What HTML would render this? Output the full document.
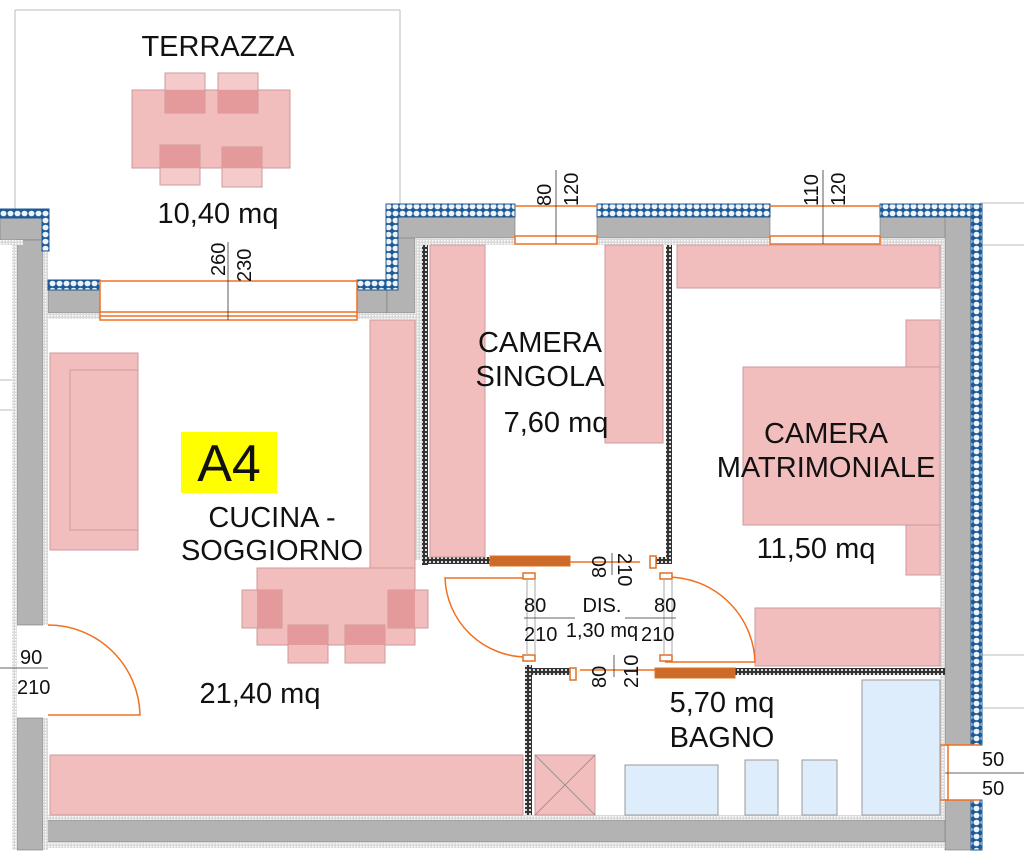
<!DOCTYPE html>
<html><head><meta charset="utf-8"><style>
html,body{margin:0;padding:0;background:#fff;}
svg{display:block;font-family:"Liberation Sans",sans-serif;}
</style></head><body>
<svg width="1024" height="856" viewBox="0 0 1024 856" xmlns="http://www.w3.org/2000/svg">
<defs>
<pattern id="ins" width="7" height="7" patternUnits="userSpaceOnUse">
<rect width="7" height="7" fill="#1d5a96"/><ellipse cx="3.5" cy="3.5" rx="3" ry="2.8" fill="#eef3f9"/>
</pattern>
<pattern id="lt" width="3" height="3" patternUnits="userSpaceOnUse">
<rect width="3" height="3" fill="#d9d9d9"/><rect width="1.5" height="1.5" fill="#fff"/>
</pattern>
<pattern id="dk" width="4" height="4" patternUnits="userSpaceOnUse">
<rect width="4" height="4" fill="#333"/><rect x="1" y="1" width="2" height="2" fill="#ddd"/>
</pattern>
</defs>
<g fill="none" stroke="#bbb" stroke-width="1">
<line x1="15" y1="10" x2="15" y2="210"/><line x1="15" y1="10" x2="400" y2="10"/><line x1="400" y1="10" x2="400" y2="205"/>
<line x1="980" y1="203" x2="1024" y2="203"/><line x1="980" y1="245" x2="1024" y2="245"/>
<line x1="980" y1="655" x2="1024" y2="655"/><line x1="980" y1="708" x2="1024" y2="708"/>
<line x1="0" y1="380" x2="15" y2="380"/><line x1="0" y1="410" x2="15" y2="410"/>
</g>
<g fill="#f2bdbd" stroke="#c99" stroke-width="1">
<rect x="132" y="90" width="158" height="78"/>
<rect x="165" y="73" width="40" height="40" fill-opacity="0.8"/>
<rect x="218" y="73" width="40" height="40" fill-opacity="0.8"/>
<rect x="160" y="145" width="40" height="40" fill-opacity="0.8"/>
<rect x="222" y="147" width="40" height="40" fill-opacity="0.8"/>
</g>
<g fill="#e49a9a"><rect x="165" y="90" width="40" height="23"/><rect x="218" y="90" width="40" height="23"/><rect x="160" y="145" width="40" height="23"/><rect x="222" y="147" width="40" height="21"/></g>
<g fill="#b3b3b3" stroke="#777" stroke-width="0.6">
<rect x="0" y="217" width="43" height="23"/>
<rect x="17" y="240" width="26" height="385"/>
<rect x="17" y="718" width="26" height="132"/>
<rect x="48" y="290" width="52" height="23"/>
<rect x="357" y="290" width="30" height="23"/>
<rect x="387" y="217" width="28" height="96"/>
<rect x="398" y="217" width="117" height="21"/>
<rect x="597" y="217" width="173" height="21"/>
<rect x="880" y="217" width="92" height="21"/>
<rect x="945" y="217" width="27" height="528"/>
<rect x="945" y="800" width="27" height="50"/>
<rect x="43" y="820" width="902" height="22"/>
</g>
<g fill="url(#lt)">
<rect x="0" y="240" width="23" height="5"/>
<rect x="12" y="240" width="5" height="610"/>
<rect x="43" y="245" width="5" height="380"/><rect x="43" y="718" width="5" height="132"/>
<rect x="48" y="313" width="52" height="6"/><rect x="357" y="313" width="58" height="6"/>
<rect x="415" y="238" width="100" height="7"/><rect x="597" y="238" width="173" height="7"/><rect x="880" y="238" width="65" height="7"/>
<rect x="415" y="245" width="7" height="315"/>
<rect x="940" y="245" width="5" height="570"/>
<rect x="43" y="815" width="902" height="5"/><rect x="43" y="842" width="902" height="6"/>
</g>
<g fill="url(#ins)" stroke="#1d5a96" stroke-width="1">
<rect x="0" y="209" width="48" height="9"/>
<rect x="42" y="209" width="7" height="42"/>
<rect x="48" y="280" width="52" height="10"/>
<rect x="357" y="280" width="30" height="10"/>
<rect x="386" y="204" width="12" height="86"/>
<rect x="386" y="204" width="129" height="13"/>
<rect x="597" y="204" width="173" height="13"/>
<rect x="880" y="204" width="102" height="13"/>
<rect x="971" y="204" width="11" height="541"/>
<rect x="971" y="800" width="11" height="50"/>
</g>
<g fill="url(#dk)">
<rect x="422" y="245" width="6" height="320"/>
<rect x="666" y="245" width="6" height="315"/>
<rect x="428" y="557" width="62" height="7"/>
<rect x="655" y="557" width="17" height="7"/>
<rect x="525" y="665" width="7" height="150"/>
<rect x="532" y="668" width="38" height="7"/>
<rect x="735" y="668" width="210" height="7"/>
</g>
<g fill="none" stroke="#f07020" stroke-width="1.5">
<rect x="100" y="281" width="257" height="39"/>
<line x1="100" y1="312" x2="357" y2="312"/><line x1="100" y1="316" x2="357" y2="316"/>
<rect x="515" y="236" width="82" height="8"/><rect x="770" y="236" width="110" height="8"/>
<line x1="515" y1="206" x2="597" y2="206"/><line x1="770" y1="206" x2="880" y2="206"/>
<rect x="940" y="745" width="8" height="55"/><line x1="945" y1="745" x2="980" y2="745"/><line x1="945" y1="800" x2="980" y2="800"/>
</g>
<g stroke="#333" stroke-width="0.8">
<line x1="228" y1="242" x2="228" y2="320"/><line x1="556" y1="170" x2="556" y2="244"/><line x1="823" y1="170" x2="823" y2="244"/>
<line x1="0" y1="668" x2="48" y2="668"/><line x1="945" y1="773" x2="1024" y2="773"/>
</g>
<g fill="#f2bdbd" stroke="#c99" stroke-width="1">
<rect x="50" y="353" width="88" height="197"/>
<rect x="70" y="370" width="68" height="160"/>
<rect x="370" y="320" width="45" height="248"/>
<rect x="257" y="568" width="158" height="77"/>
<rect x="242" y="590" width="40" height="38"/>
<rect x="288" y="625" width="40" height="38"/>
<rect x="345" y="625" width="40" height="38"/>
<rect x="388" y="590" width="40" height="38"/>
<rect x="50" y="755" width="473" height="60"/>
<rect x="430" y="245" width="55" height="312"/>
<rect x="605" y="245" width="58" height="198"/>
<rect x="677" y="245" width="263" height="43"/>
<rect x="906" y="320" width="34" height="255"/>
<rect x="743" y="367" width="197" height="158"/>
<rect x="755" y="608" width="185" height="58"/>
<rect x="535" y="755" width="60" height="60"/>
</g>
<g fill="#e49a9a"><rect x="257" y="590" width="25" height="38"/><rect x="288" y="625" width="40" height="20"/><rect x="345" y="625" width="40" height="20"/><rect x="388" y="590" width="27" height="38"/></g>
<g stroke="#888" stroke-width="0.8"><line x1="535" y1="755" x2="595" y2="815"/><line x1="595" y1="755" x2="535" y2="815"/></g>
<g fill="#deedfb" stroke="#999" stroke-width="1">
<rect x="625" y="765" width="93" height="50"/>
<rect x="745" y="760" width="33" height="55"/>
<rect x="802" y="760" width="35" height="55"/>
<rect x="862" y="680" width="78" height="135"/>
</g>
<g fill="none" stroke="#f07020" stroke-width="1.5">
<path d="M48 625 A92 92 0 0 1 140 715 L48 715"/>
<path d="M527 578 L445 578 A82 82 0 0 0 527 657"/>
<path d="M665 577 A88 88 0 0 1 755 662 L665 662"/>
<line x1="530" y1="562" x2="640" y2="562"/>
<line x1="580" y1="670" x2="700" y2="670"/>
</g>
<g fill="#cc6a2a" stroke="#e07020">
<rect x="490" y="556" width="80" height="10"/>
<rect x="655" y="668" width="80" height="10"/>
</g>
<g fill="#fff" stroke="#e07020" stroke-width="1.5">
<rect x="523" y="573" width="12" height="6"/><rect x="523" y="655" width="12" height="6"/>
<rect x="660" y="573" width="12" height="6"/><rect x="660" y="655" width="12" height="6"/>
<rect x="650" y="556" width="6" height="12"/><rect x="570" y="668" width="6" height="12"/>
</g>
<g stroke="#aaa" stroke-width="1" fill="none">
<line x1="527" y1="580" x2="527" y2="655"/><line x1="535" y1="580" x2="535" y2="655"/>
<line x1="664" y1="580" x2="664" y2="655"/><line x1="672" y1="580" x2="672" y2="655"/>
</g>
<g stroke="#333" stroke-width="0.8"><line x1="524" y1="618" x2="575" y2="618"/><line x1="625" y1="618" x2="676" y2="618"/><line x1="612" y1="553" x2="612" y2="575"/><line x1="614" y1="655" x2="614" y2="677"/></g>
<rect x="181" y="432" width="96" height="61" fill="#ffff00"/>
<g fill="#111" text-anchor="middle" font-size="29">
<text x="229" y="481" font-size="52">A4</text>
<text x="218" y="56">TERRAZZA</text>
<text x="218" y="223">10,40 mq</text>
<text x="272" y="527">CUCINA -</text>
<text x="272" y="560">SOGGIORNO</text>
<text x="260" y="703">21,40 mq</text>
<text x="540" y="352">CAMERA</text>
<text x="540" y="386">SINGOLA</text>
<text x="556" y="432">7,60 mq</text>
<text x="826" y="443">CAMERA</text>
<text x="826" y="477">MATRIMONIALE</text>
<text x="816" y="558">11,50 mq</text>
<text x="722" y="712">5,70 mq</text>
<text x="722" y="747">BAGNO</text>
</g>
<g fill="#111" font-size="20">
<text x="602" y="612" text-anchor="middle">DIS.</text>
<text x="602" y="637" text-anchor="middle">1,30 mq</text>
<text x="524" y="612">80</text><text x="524" y="641">210</text>
<text x="654" y="612">80</text><text x="641" y="641">210</text>
<text x="20" y="664">90</text><text x="17" y="694">210</text>
<text x="982" y="766">50</text><text x="982" y="795">50</text>
<text transform="translate(225,276) rotate(-90)">260</text>
<text transform="translate(251,282) rotate(-90)">230</text>
<text transform="translate(551,206) rotate(-90)">80</text>
<text transform="translate(578,206) rotate(-90)">120</text>
<text transform="translate(818,206) rotate(-90)">110</text>
<text transform="translate(845,206) rotate(-90)">120</text>
<text transform="translate(606,578) rotate(-90)">80</text>
<text transform="translate(618,553) rotate(90)">210</text>
<text transform="translate(606,688) rotate(-90)">80</text>
<text transform="translate(638,688) rotate(-90)">210</text>
</g>
</svg>
</body></html>
